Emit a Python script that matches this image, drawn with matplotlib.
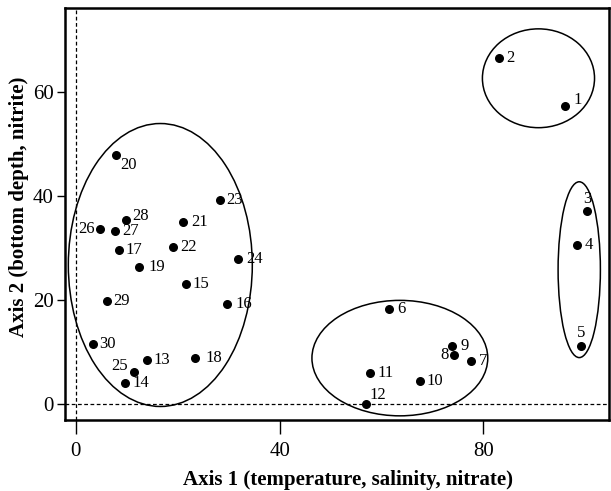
import matplotlib.pyplot as plt
from matplotlib.patches import Ellipse

plt.rcParams['font.family'] = ['Liberation Serif', 'DejaVu Serif']

# station scores on the two ordination axes
stations = list(range(1, 31))
axis1 = [96.0, 83.0, 100.3, 98.3, 99.1, 61.5, 77.5, 74.2, 73.9, 67.6,
         57.8, 57.0, 13.9, 9.7, 21.6, 29.6, 8.4, 23.5, 12.5, 8.0,
         21.0, 19.0, 28.3, 31.8, 11.4, 4.8, 7.8, 9.8, 6.1, 3.3]
axis2 = [57.4, 66.6, 37.1, 30.6, 11.3, 18.4, 8.4, 9.5, 11.2, 4.5,
         6.1, 0.0, 8.6, 4.1, 23.2, 19.3, 29.7, 9.0, 26.5, 47.9,
         35.0, 30.2, 39.3, 28.0, 6.3, 33.7, 33.4, 35.5, 19.9, 11.6]

# groups drawn as ellipses: centre x, centre y, width, height
groups = [
    (16.6, 26.8, 36.1, 54.4),
    (90.8, 62.7, 22.0, 19.0),
    (98.8, 25.9, 8.3, 33.8),
    (63.6, 8.9, 34.5, 22.2),
]

# label placement (pixels) where it differs from the default
label_off = {3: (0, 12), 5: (0, 13), 8: (-9, 0), 26: (-14, 0),
             25: (-14, 6), 12: (12, 9), 20: (12, -10), 1: (13, 6),
             28: (15, 4), 24: (17, 0), 21: (17, 0), 19: (17, 0),
             16: (17, 0), 18: (18, 0), 22: (16, 0), 14: (16, 0)}

fig = plt.figure(figsize=(6.11, 4.91), dpi=100)
ax = fig.add_axes([0.1064, 0.1446, 0.890, 0.839])

ax.axvline(0, color='black', lw=0.9, ls=(0, (3, 2)), zorder=1)
ax.axhline(0, color='black', lw=0.9, ls=(0, (3, 2)), zorder=1)

for cx, cy, w, h in groups:
    ax.add_patch(Ellipse((cx, cy), w, h, fill=False, ec='black', lw=1.1))

ax.scatter(axis1, axis2, s=30, color='black', zorder=3)

for n, x, y in zip(stations, axis1, axis2):
    default = (12, 0) if n < 10 else (15, 0)
    dx, dy = label_off.get(n, default)
    ax.annotate(str(n), (x, y), xytext=(dx, dy), textcoords='offset pixels',
                ha='center', va='center', fontsize=12)

ax.set_xlim(-2.1, 104.6)
ax.set_ylim(-3.0, 76.2)
ax.set_xticks([0, 40, 80])
ax.set_yticks([0, 20, 40, 60])
ax.tick_params(axis='x', direction='out', length=10, width=1, pad=6, labelsize=15)
ax.tick_params(axis='y', direction='out', length=6, width=1, pad=2, labelsize=15)
for s in ax.spines.values():
    s.set_linewidth(1.8)

ax.set_xlabel('Axis 1 (temperature, salinity, nitrate)', fontsize=15,
              fontweight='bold', labelpad=6)
ax.set_ylabel('Axis 2 (bottom depth, nitrite)', fontsize=15,
              fontweight='bold', labelpad=3)
ax.xaxis.label.set_x(0.521)
ax.yaxis.label.set_y(0.517)

plt.savefig('out.png', dpi=100)
